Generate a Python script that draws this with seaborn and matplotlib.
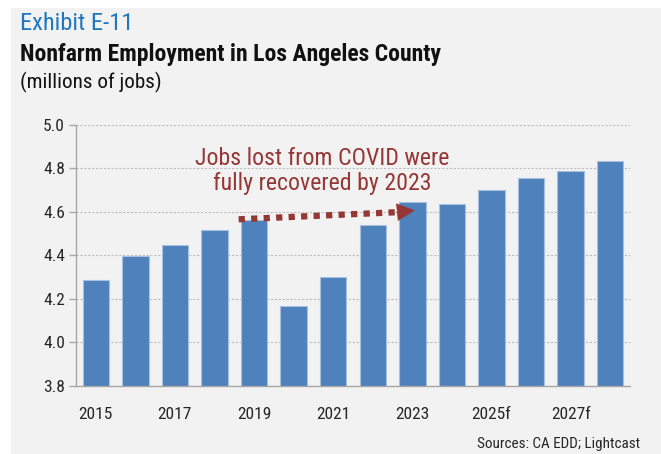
import matplotlib
matplotlib.use("Agg")
import matplotlib.pyplot as plt
from matplotlib.patches import Rectangle
import seaborn as sns
import pandas as pd
from matplotlib import font_manager

years = ["2015", "2016", "2017", "2018", "2019", "2020", "2021", "2022",
         "2023", "2024", "2025f", "2026f", "2027f", "2028f"]
jobs = [4.285, 4.395, 4.449, 4.516, 4.560, 4.166, 4.302, 4.539,
        4.644, 4.637, 4.699, 4.753, 4.785, 4.832]
shown_labels = ["2015", "2017", "2019", "2021", "2023", "2025f", "2027f"]
y_ticks = [3.8, 4.0, 4.2, 4.4, 4.6, 4.8, 5.0]

exhibit = "Exhibit E-11"
title = "Nonfarm Employment in Los Angeles County"
subtitle = "(millions of jobs)"
note = "Jobs lost from COVID were\nfully recovered by 2023"
source = "Sources: CA EDD; Lightcast"

sns.set_theme(style="white")
names = {f.name for f in font_manager.fontManager.ttflist}
fam = "DejaVu Sans"
for cand in ["Liberation Sans Narrow", "Roboto Condensed", "DejaVu Sans Condensed",
             "Open Sans Condensed", "Liberation Sans"]:
    if cand in names:
        fam = cand
        break
plt.rcParams["font.family"] = [fam, "DejaVu Sans"]

df = pd.DataFrame({"year": years, "jobs": jobs})

fig = plt.figure(figsize=(6.61, 4.54), dpi=100)
fig.patch.set_facecolor("white")
fig.patches.append(Rectangle((11 / 661, 0), 1 - 11 / 661, 1 - 8 / 454,
                             transform=fig.transFigure, facecolor="#f2f2f2",
                             edgecolor="none", zorder=-10))
ax = fig.add_axes([76 / 661, 1 - 385.7 / 454, (630 - 76) / 661, (385.7 - 124.7) / 454])
ax.set_facecolor("none")

sns.barplot(data=df, x="year", y="jobs", ax=ax, color="#4f81bd", width=0.67,
            edgecolor="#a7c0e0", linewidth=0.8, saturation=1)

ax.set_ylim(3.8, 5.0)
ax.set_xlim(-0.5, len(years) - 0.5)
ax.set_yticks(y_ticks)
ax.set_yticklabels([f"{v:.1f}" for v in y_ticks])
ax.set_xticks([years.index(l) for l in shown_labels])
ax.set_xticklabels(shown_labels)
ax.set_xlabel("")
ax.set_ylabel("")

for v in y_ticks[1:]:
    ax.axhline(v, color="#bdbdbd", linestyle=(0, (2, 1.5)), linewidth=0.8, zorder=0)

for s in ["top", "right"]:
    ax.spines[s].set_visible(False)
for s in ["left", "bottom"]:
    ax.spines[s].set_color("#a6a6a6")
    ax.spines[s].set_linewidth(1.0)

narrow = fam != "Liberation Sans" and fam != "DejaVu Sans"
tick_fs = 12.5 if narrow else 11
ax.tick_params(axis="y", which="both", left=True, length=5, width=1.0,
               color="#a6a6a6", labelsize=tick_fs, labelcolor="#262626", pad=3)
ax.tick_params(axis="x", bottom=False, labelsize=tick_fs, labelcolor="#262626", pad=9)

# annotation arrow
red = "#953735"
x0, y0 = 3.61, 4.565
x1, y1 = 7.65, 4.598
xt, yt = 8.06, 4.606
ax.plot([x0, x1], [y0, y1], color=red, linewidth=4.5,
        linestyle=(0, (1, 1.0)), solid_capstyle="butt", dash_capstyle="butt", zorder=5)
ax.annotate("", xy=(xt, yt), xytext=(x1 - 0.05, y1 - 0.0004),
            arrowprops=dict(arrowstyle="-|>,head_length=0.6,head_width=0.3",
                            color=red, lw=0.5, mutation_scale=20,
                            shrinkA=0, shrinkB=0), zorder=6)

texts = []
t_note = fig.text(322 / 661, 1 - 171 / 454, note, ha="center", va="center",
                  color=red, fontsize=15.5, linespacing=1.15)
texts.append((t_note, 254))
t_ex = fig.text(20 / 661, 1 - 23 / 454, exhibit, ha="left", va="center",
                color="#1f77c0", fontsize=16)
texts.append((t_ex, 113))
t_title = fig.text(20 / 661, 1 - 55 / 454, title, ha="left", va="center",
                   color="#111111", fontsize=15.5, fontweight="bold")
texts.append((t_title, 421))
t_sub = fig.text(20 / 661, 1 - 82 / 454, subtitle, ha="left", va="center",
                 color="#111111", fontsize=14)
texts.append((t_sub, 142))
t_src = fig.text(640 / 661, 1 - 444 / 454, source, ha="right", va="center",
                 color="#262626", fontsize=10.5)
texts.append((t_src, 164))

# fit text widths to the reference layout
renderer = fig.canvas.get_renderer()
for t, target in texts:
    w = t.get_window_extent(renderer).width
    if w > 0:
        t.set_fontsize(t.get_fontsize() * target / w)

fig.savefig("out.png", dpi=100, facecolor=fig.get_facecolor())
